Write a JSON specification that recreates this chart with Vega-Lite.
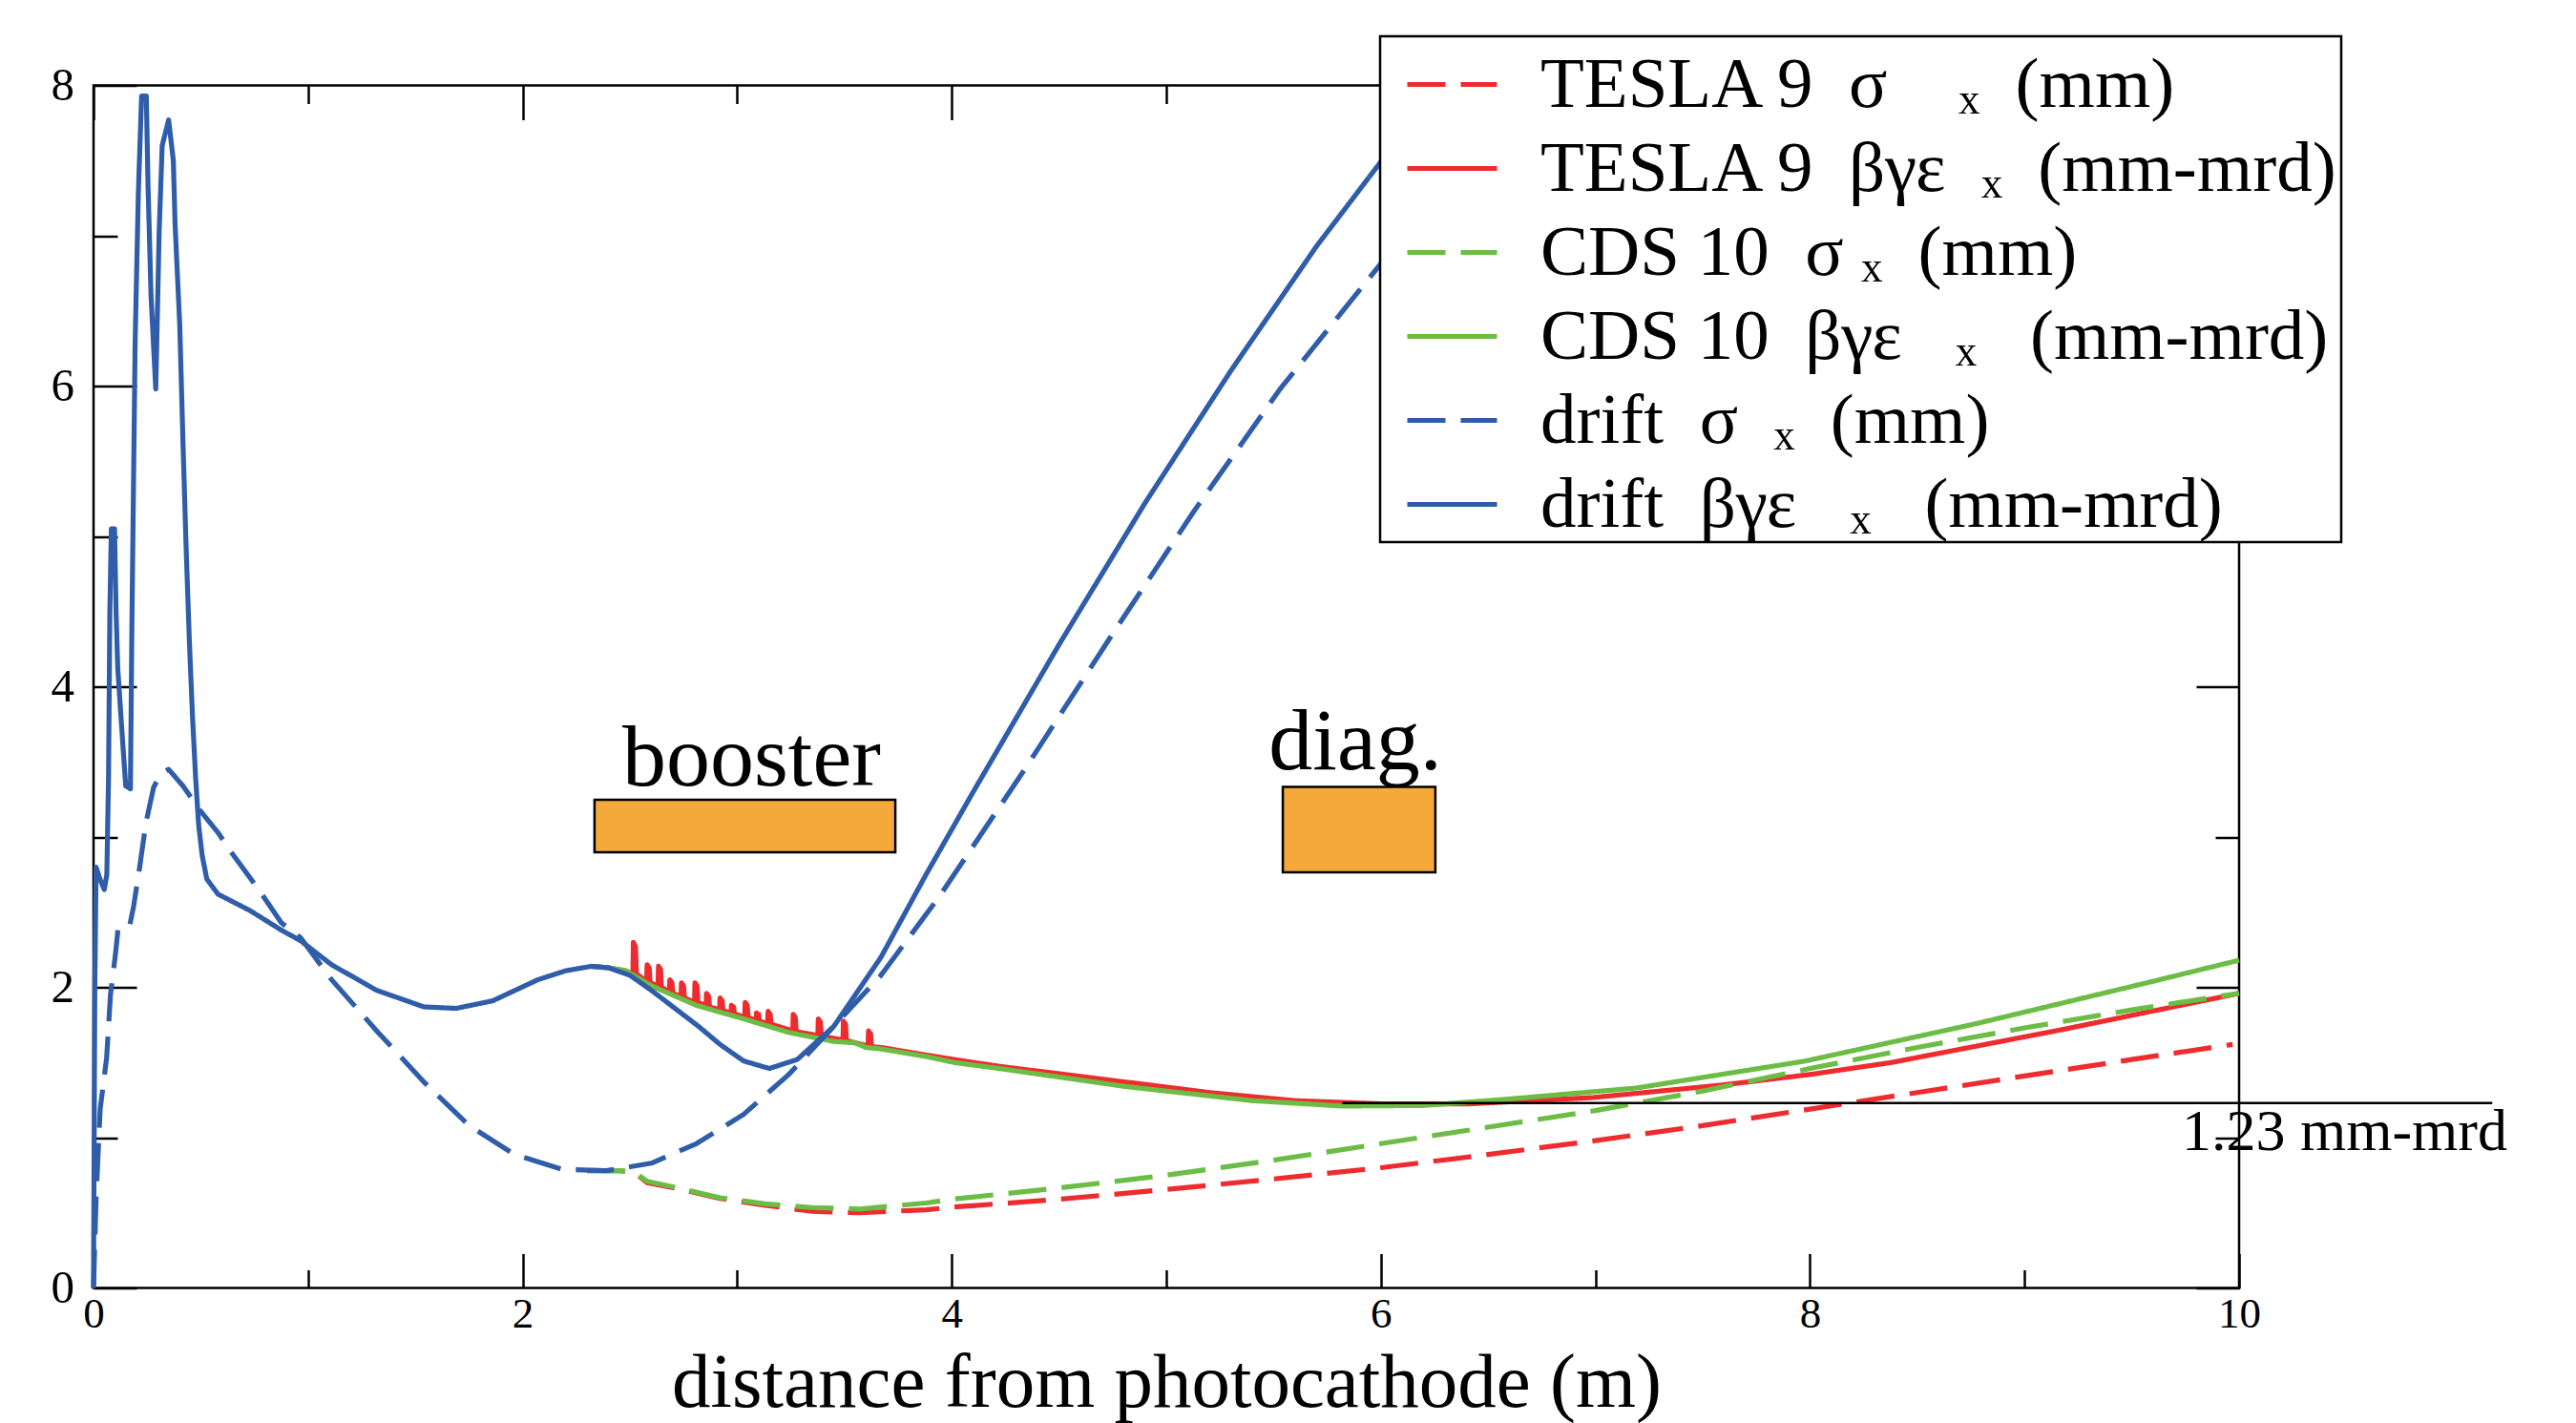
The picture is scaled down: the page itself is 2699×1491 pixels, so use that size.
{
  "$schema": "https://vega.github.io/schema/vega-lite/v6.json",
  "width": 2248,
  "height": 1260,
  "autosize": {"type": "none"},
  "padding": {"left": 98, "top": 89.5, "right": 353, "bottom": 141.5},
  "background": "white",
  "config": {
    "view": {"stroke": "black", "strokeWidth": 2.5},
    "legend": {"strokeWidth": 2.5},
    "axis": {"labelFont": "Liberation Serif", "titleFont": "Liberation Serif"},
    "text": {"font": "Liberation Serif"}
  },
  "datasets": {
    "curves": [
      {"series": "TESLA 9 σx (mm)", "x": 2.3, "y": 0.78},
      {"series": "TESLA 9 σx (mm)", "x": 2.45, "y": 0.78},
      {"series": "TESLA 9 σx (mm)", "x": 2.52, "y": 0.77},
      {"series": "TESLA 9 σx (mm)", "x": 2.58, "y": 0.7},
      {"series": "TESLA 9 σx (mm)", "x": 2.71, "y": 0.665},
      {"series": "TESLA 9 σx (mm)", "x": 2.92, "y": 0.595},
      {"series": "TESLA 9 σx (mm)", "x": 3.13, "y": 0.55},
      {"series": "TESLA 9 σx (mm)", "x": 3.35, "y": 0.51},
      {"series": "TESLA 9 σx (mm)", "x": 3.57, "y": 0.5},
      {"series": "TESLA 9 σx (mm)", "x": 3.88, "y": 0.52},
      {"series": "TESLA 9 σx (mm)", "x": 4.0, "y": 0.537},
      {"series": "TESLA 9 σx (mm)", "x": 4.5, "y": 0.59},
      {"series": "TESLA 9 σx (mm)", "x": 5.0, "y": 0.655},
      {"series": "TESLA 9 σx (mm)", "x": 5.5, "y": 0.725},
      {"series": "TESLA 9 σx (mm)", "x": 6.0, "y": 0.8},
      {"series": "TESLA 9 σx (mm)", "x": 6.4, "y": 0.87},
      {"series": "TESLA 9 σx (mm)", "x": 7.0, "y": 0.98},
      {"series": "TESLA 9 σx (mm)", "x": 7.5, "y": 1.08},
      {"series": "TESLA 9 σx (mm)", "x": 8.0, "y": 1.19},
      {"series": "TESLA 9 σx (mm)", "x": 8.5, "y": 1.3},
      {"series": "TESLA 9 σx (mm)", "x": 9.0, "y": 1.41},
      {"series": "TESLA 9 σx (mm)", "x": 9.5, "y": 1.52},
      {"series": "TESLA 9 σx (mm)", "x": 9.97, "y": 1.62},

      {"series": "TESLA 9 βγεx (mm-mrd)", "x": 2.32, "y": 2.14},
      {"series": "TESLA 9 βγεx (mm-mrd)", "x": 2.4, "y": 2.13},
      {"series": "TESLA 9 βγεx (mm-mrd)", "x": 2.48, "y": 2.11},
      {"series": "TESLA 9 βγεx (mm-mrd)", "x": 2.514, "y": 2.09},
      {"series": "TESLA 9 βγεx (mm-mrd)", "x": 2.516, "y": 2.3},
      {"series": "TESLA 9 βγεx (mm-mrd)", "x": 2.526, "y": 2.27},
      {"series": "TESLA 9 βγεx (mm-mrd)", "x": 2.53, "y": 2.09},
      {"series": "TESLA 9 βγεx (mm-mrd)", "x": 2.578, "y": 2.04},
      {"series": "TESLA 9 βγεx (mm-mrd)", "x": 2.58, "y": 2.15},
      {"series": "TESLA 9 βγεx (mm-mrd)", "x": 2.59, "y": 2.13},
      {"series": "TESLA 9 βγεx (mm-mrd)", "x": 2.594, "y": 2.03},
      {"series": "TESLA 9 βγεx (mm-mrd)", "x": 2.631, "y": 2.01},
      {"series": "TESLA 9 βγεx (mm-mrd)", "x": 2.633, "y": 2.14},
      {"series": "TESLA 9 βγεx (mm-mrd)", "x": 2.643, "y": 2.12},
      {"series": "TESLA 9 βγεx (mm-mrd)", "x": 2.647, "y": 2.0},
      {"series": "TESLA 9 βγεx (mm-mrd)", "x": 2.684, "y": 1.97},
      {"series": "TESLA 9 βγεx (mm-mrd)", "x": 2.686, "y": 2.05},
      {"series": "TESLA 9 βγεx (mm-mrd)", "x": 2.696, "y": 2.03},
      {"series": "TESLA 9 βγεx (mm-mrd)", "x": 2.7, "y": 1.96},
      {"series": "TESLA 9 βγεx (mm-mrd)", "x": 2.738, "y": 1.94},
      {"series": "TESLA 9 βγεx (mm-mrd)", "x": 2.74, "y": 2.03},
      {"series": "TESLA 9 βγεx (mm-mrd)", "x": 2.75, "y": 2.01},
      {"series": "TESLA 9 βγεx (mm-mrd)", "x": 2.754, "y": 1.93},
      {"series": "TESLA 9 βγεx (mm-mrd)", "x": 2.801, "y": 1.9},
      {"series": "TESLA 9 βγεx (mm-mrd)", "x": 2.803, "y": 2.03},
      {"series": "TESLA 9 βγεx (mm-mrd)", "x": 2.813, "y": 2.01},
      {"series": "TESLA 9 βγεx (mm-mrd)", "x": 2.817, "y": 1.9},
      {"series": "TESLA 9 βγεx (mm-mrd)", "x": 2.855, "y": 1.88},
      {"series": "TESLA 9 βγεx (mm-mrd)", "x": 2.857, "y": 1.96},
      {"series": "TESLA 9 βγεx (mm-mrd)", "x": 2.867, "y": 1.94},
      {"series": "TESLA 9 βγεx (mm-mrd)", "x": 2.871, "y": 1.87},
      {"series": "TESLA 9 βγεx (mm-mrd)", "x": 2.918, "y": 1.85},
      {"series": "TESLA 9 βγεx (mm-mrd)", "x": 2.92, "y": 1.93},
      {"series": "TESLA 9 βγεx (mm-mrd)", "x": 2.93, "y": 1.91},
      {"series": "TESLA 9 βγεx (mm-mrd)", "x": 2.934, "y": 1.845},
      {"series": "TESLA 9 βγεx (mm-mrd)", "x": 2.971, "y": 1.83},
      {"series": "TESLA 9 βγεx (mm-mrd)", "x": 2.973, "y": 1.88},
      {"series": "TESLA 9 βγεx (mm-mrd)", "x": 2.983, "y": 1.87},
      {"series": "TESLA 9 βγεx (mm-mrd)", "x": 2.987, "y": 1.825},
      {"series": "TESLA 9 βγεx (mm-mrd)", "x": 3.035, "y": 1.8},
      {"series": "TESLA 9 βγεx (mm-mrd)", "x": 3.037, "y": 1.9},
      {"series": "TESLA 9 βγεx (mm-mrd)", "x": 3.047, "y": 1.88},
      {"series": "TESLA 9 βγεx (mm-mrd)", "x": 3.051, "y": 1.8},
      {"series": "TESLA 9 βγεx (mm-mrd)", "x": 3.088, "y": 1.78},
      {"series": "TESLA 9 βγεx (mm-mrd)", "x": 3.09, "y": 1.83},
      {"series": "TESLA 9 βγεx (mm-mrd)", "x": 3.1, "y": 1.82},
      {"series": "TESLA 9 βγεx (mm-mrd)", "x": 3.104, "y": 1.775},
      {"series": "TESLA 9 βγεx (mm-mrd)", "x": 3.142, "y": 1.76},
      {"series": "TESLA 9 βγεx (mm-mrd)", "x": 3.144, "y": 1.84},
      {"series": "TESLA 9 βγεx (mm-mrd)", "x": 3.154, "y": 1.82},
      {"series": "TESLA 9 βγεx (mm-mrd)", "x": 3.158, "y": 1.755},
      {"series": "TESLA 9 βγεx (mm-mrd)", "x": 3.259, "y": 1.71},
      {"series": "TESLA 9 βγεx (mm-mrd)", "x": 3.261, "y": 1.82},
      {"series": "TESLA 9 βγεx (mm-mrd)", "x": 3.271, "y": 1.8},
      {"series": "TESLA 9 βγεx (mm-mrd)", "x": 3.275, "y": 1.705},
      {"series": "TESLA 9 βγεx (mm-mrd)", "x": 3.376, "y": 1.68},
      {"series": "TESLA 9 βγεx (mm-mrd)", "x": 3.378, "y": 1.79},
      {"series": "TESLA 9 βγεx (mm-mrd)", "x": 3.388, "y": 1.77},
      {"series": "TESLA 9 βγεx (mm-mrd)", "x": 3.392, "y": 1.675},
      {"series": "TESLA 9 βγεx (mm-mrd)", "x": 3.493, "y": 1.65},
      {"series": "TESLA 9 βγεx (mm-mrd)", "x": 3.495, "y": 1.775},
      {"series": "TESLA 9 βγεx (mm-mrd)", "x": 3.505, "y": 1.755},
      {"series": "TESLA 9 βγεx (mm-mrd)", "x": 3.509, "y": 1.645},
      {"series": "TESLA 9 βγεx (mm-mrd)", "x": 3.61, "y": 1.61},
      {"series": "TESLA 9 βγεx (mm-mrd)", "x": 3.612, "y": 1.71},
      {"series": "TESLA 9 βγεx (mm-mrd)", "x": 3.622, "y": 1.69},
      {"series": "TESLA 9 βγεx (mm-mrd)", "x": 3.626, "y": 1.605},
      {"series": "TESLA 9 βγεx (mm-mrd)", "x": 3.67, "y": 1.6},
      {"series": "TESLA 9 βγεx (mm-mrd)", "x": 3.88, "y": 1.55},
      {"series": "TESLA 9 βγεx (mm-mrd)", "x": 4.01, "y": 1.52},
      {"series": "TESLA 9 βγεx (mm-mrd)", "x": 4.22, "y": 1.475},
      {"series": "TESLA 9 βγεx (mm-mrd)", "x": 4.81, "y": 1.37},
      {"series": "TESLA 9 βγεx (mm-mrd)", "x": 5.2, "y": 1.3},
      {"series": "TESLA 9 βγεx (mm-mrd)", "x": 5.6, "y": 1.246},
      {"series": "TESLA 9 βγεx (mm-mrd)", "x": 6.0, "y": 1.225},
      {"series": "TESLA 9 βγεx (mm-mrd)", "x": 6.4, "y": 1.224},
      {"series": "TESLA 9 βγεx (mm-mrd)", "x": 6.99, "y": 1.267},
      {"series": "TESLA 9 βγεx (mm-mrd)", "x": 7.59, "y": 1.35},
      {"series": "TESLA 9 βγεx (mm-mrd)", "x": 8.0, "y": 1.42},
      {"series": "TESLA 9 βγεx (mm-mrd)", "x": 8.38, "y": 1.5},
      {"series": "TESLA 9 βγεx (mm-mrd)", "x": 9.18, "y": 1.72},
      {"series": "TESLA 9 βγεx (mm-mrd)", "x": 10.0, "y": 1.96},

      {"series": "CDS 10 σx (mm)", "x": 2.3, "y": 0.78},
      {"series": "CDS 10 σx (mm)", "x": 2.45, "y": 0.78},
      {"series": "CDS 10 σx (mm)", "x": 2.52, "y": 0.77},
      {"series": "CDS 10 σx (mm)", "x": 2.58, "y": 0.71},
      {"series": "CDS 10 σx (mm)", "x": 2.71, "y": 0.67},
      {"series": "CDS 10 σx (mm)", "x": 2.92, "y": 0.6},
      {"series": "CDS 10 σx (mm)", "x": 3.13, "y": 0.56},
      {"series": "CDS 10 σx (mm)", "x": 3.35, "y": 0.535},
      {"series": "CDS 10 σx (mm)", "x": 3.57, "y": 0.525},
      {"series": "CDS 10 σx (mm)", "x": 3.88, "y": 0.565},
      {"series": "CDS 10 σx (mm)", "x": 4.0, "y": 0.59},
      {"series": "CDS 10 σx (mm)", "x": 4.5, "y": 0.665},
      {"series": "CDS 10 σx (mm)", "x": 5.0, "y": 0.75},
      {"series": "CDS 10 σx (mm)", "x": 5.5, "y": 0.85},
      {"series": "CDS 10 σx (mm)", "x": 6.0, "y": 0.96},
      {"series": "CDS 10 σx (mm)", "x": 6.5, "y": 1.07},
      {"series": "CDS 10 σx (mm)", "x": 7.0, "y": 1.18},
      {"series": "CDS 10 σx (mm)", "x": 7.5, "y": 1.31},
      {"series": "CDS 10 σx (mm)", "x": 8.0, "y": 1.46},
      {"series": "CDS 10 σx (mm)", "x": 8.5, "y": 1.6},
      {"series": "CDS 10 σx (mm)", "x": 9.0, "y": 1.73},
      {"series": "CDS 10 σx (mm)", "x": 9.5, "y": 1.85},
      {"series": "CDS 10 σx (mm)", "x": 10.0, "y": 1.96},

      {"series": "CDS 10 βγεx (mm-mrd)", "x": 2.32, "y": 2.14},
      {"series": "CDS 10 βγεx (mm-mrd)", "x": 2.4, "y": 2.13},
      {"series": "CDS 10 βγεx (mm-mrd)", "x": 2.48, "y": 2.11},
      {"series": "CDS 10 βγεx (mm-mrd)", "x": 2.6, "y": 2.01},
      {"series": "CDS 10 βγεx (mm-mrd)", "x": 2.81, "y": 1.88},
      {"series": "CDS 10 βγεx (mm-mrd)", "x": 3.03, "y": 1.79},
      {"series": "CDS 10 βγεx (mm-mrd)", "x": 3.24, "y": 1.7},
      {"series": "CDS 10 βγεx (mm-mrd)", "x": 3.45, "y": 1.64},
      {"series": "CDS 10 βγεx (mm-mrd)", "x": 3.55, "y": 1.63},
      {"series": "CDS 10 βγεx (mm-mrd)", "x": 3.6, "y": 1.6},
      {"series": "CDS 10 βγεx (mm-mrd)", "x": 3.67, "y": 1.59},
      {"series": "CDS 10 βγεx (mm-mrd)", "x": 3.88, "y": 1.54},
      {"series": "CDS 10 βγεx (mm-mrd)", "x": 4.01, "y": 1.5},
      {"series": "CDS 10 βγεx (mm-mrd)", "x": 4.22, "y": 1.46},
      {"series": "CDS 10 βγεx (mm-mrd)", "x": 4.81, "y": 1.34},
      {"series": "CDS 10 βγεx (mm-mrd)", "x": 5.4, "y": 1.246},
      {"series": "CDS 10 βγεx (mm-mrd)", "x": 5.82, "y": 1.21},
      {"series": "CDS 10 βγεx (mm-mrd)", "x": 6.2, "y": 1.214},
      {"series": "CDS 10 βγεx (mm-mrd)", "x": 6.59, "y": 1.256},
      {"series": "CDS 10 βγεx (mm-mrd)", "x": 7.19, "y": 1.33},
      {"series": "CDS 10 βγεx (mm-mrd)", "x": 7.98, "y": 1.51},
      {"series": "CDS 10 βγεx (mm-mrd)", "x": 8.78, "y": 1.76},
      {"series": "CDS 10 βγεx (mm-mrd)", "x": 9.57, "y": 2.03},
      {"series": "CDS 10 βγεx (mm-mrd)", "x": 10.0, "y": 2.18},

      {"series": "drift σx (mm)", "x": 0, "y": 0},
      {"series": "drift σx (mm)", "x": 0.012, "y": 0.6},
      {"series": "drift σx (mm)", "x": 0.031, "y": 1.19},
      {"series": "drift σx (mm)", "x": 0.061, "y": 1.53},
      {"series": "drift σx (mm)", "x": 0.079, "y": 1.95},
      {"series": "drift σx (mm)", "x": 0.103, "y": 2.23},
      {"series": "drift σx (mm)", "x": 0.115, "y": 2.4},
      {"series": "drift σx (mm)", "x": 0.17, "y": 2.42},
      {"series": "drift σx (mm)", "x": 0.187, "y": 2.54},
      {"series": "drift σx (mm)", "x": 0.215, "y": 2.8},
      {"series": "drift σx (mm)", "x": 0.245, "y": 3.1},
      {"series": "drift σx (mm)", "x": 0.28, "y": 3.33},
      {"series": "drift σx (mm)", "x": 0.313, "y": 3.42},
      {"series": "drift σx (mm)", "x": 0.35, "y": 3.45},
      {"series": "drift σx (mm)", "x": 0.417, "y": 3.34},
      {"series": "drift σx (mm)", "x": 0.5, "y": 3.17},
      {"series": "drift σx (mm)", "x": 0.58, "y": 3.03},
      {"series": "drift σx (mm)", "x": 0.636, "y": 2.91},
      {"series": "drift σx (mm)", "x": 0.77, "y": 2.65},
      {"series": "drift σx (mm)", "x": 0.875, "y": 2.43},
      {"series": "drift σx (mm)", "x": 0.965, "y": 2.33},
      {"series": "drift σx (mm)", "x": 1.11, "y": 2.05},
      {"series": "drift σx (mm)", "x": 1.32, "y": 1.71},
      {"series": "drift σx (mm)", "x": 1.54, "y": 1.37},
      {"series": "drift σx (mm)", "x": 1.75, "y": 1.08},
      {"series": "drift σx (mm)", "x": 1.96, "y": 0.89},
      {"series": "drift σx (mm)", "x": 2.18, "y": 0.79},
      {"series": "drift σx (mm)", "x": 2.39, "y": 0.78},
      {"series": "drift σx (mm)", "x": 2.6, "y": 0.83},
      {"series": "drift σx (mm)", "x": 2.81, "y": 0.96},
      {"series": "drift σx (mm)", "x": 3.03, "y": 1.155},
      {"series": "drift σx (mm)", "x": 3.24, "y": 1.42},
      {"series": "drift σx (mm)", "x": 3.45, "y": 1.74},
      {"series": "drift σx (mm)", "x": 3.67, "y": 2.08},
      {"series": "drift σx (mm)", "x": 3.94, "y": 2.6},
      {"series": "drift σx (mm)", "x": 4.34, "y": 3.45},
      {"series": "drift σx (mm)", "x": 4.74, "y": 4.33},
      {"series": "drift σx (mm)", "x": 5.13, "y": 5.17},
      {"series": "drift σx (mm)", "x": 5.53, "y": 5.98},
      {"series": "drift σx (mm)", "x": 6.02, "y": 6.85},

      {"series": "drift βγεx (mm-mrd)", "x": 0, "y": 0},
      {"series": "drift βγεx (mm-mrd)", "x": 0.006, "y": 2.0},
      {"series": "drift βγεx (mm-mrd)", "x": 0.012, "y": 2.8},
      {"series": "drift βγεx (mm-mrd)", "x": 0.03, "y": 2.72},
      {"series": "drift βγεx (mm-mrd)", "x": 0.05, "y": 2.65},
      {"series": "drift βγεx (mm-mrd)", "x": 0.062, "y": 2.75},
      {"series": "drift βγεx (mm-mrd)", "x": 0.07, "y": 3.4},
      {"series": "drift βγεx (mm-mrd)", "x": 0.076, "y": 4.5},
      {"series": "drift βγεx (mm-mrd)", "x": 0.083, "y": 5.05},
      {"series": "drift βγεx (mm-mrd)", "x": 0.098, "y": 5.05},
      {"series": "drift βγεx (mm-mrd)", "x": 0.105, "y": 4.5},
      {"series": "drift βγεx (mm-mrd)", "x": 0.113, "y": 4.12},
      {"series": "drift βγεx (mm-mrd)", "x": 0.135, "y": 3.65},
      {"series": "drift βγεx (mm-mrd)", "x": 0.15, "y": 3.34},
      {"series": "drift βγεx (mm-mrd)", "x": 0.172, "y": 3.32},
      {"series": "drift βγεx (mm-mrd)", "x": 0.179, "y": 4.43},
      {"series": "drift βγεx (mm-mrd)", "x": 0.194, "y": 6.3},
      {"series": "drift βγεx (mm-mrd)", "x": 0.209, "y": 7.29},
      {"series": "drift βγεx (mm-mrd)", "x": 0.224, "y": 7.93},
      {"series": "drift βγεx (mm-mrd)", "x": 0.246, "y": 7.93},
      {"series": "drift βγεx (mm-mrd)", "x": 0.254, "y": 7.34},
      {"series": "drift βγεx (mm-mrd)", "x": 0.268, "y": 6.6},
      {"series": "drift βγεx (mm-mrd)", "x": 0.29, "y": 5.98},
      {"series": "drift βγεx (mm-mrd)", "x": 0.306, "y": 7.03},
      {"series": "drift βγεx (mm-mrd)", "x": 0.32, "y": 7.6},
      {"series": "drift βγεx (mm-mrd)", "x": 0.35, "y": 7.77},
      {"series": "drift βγεx (mm-mrd)", "x": 0.372, "y": 7.5},
      {"series": "drift βγεx (mm-mrd)", "x": 0.38, "y": 7.08},
      {"series": "drift βγεx (mm-mrd)", "x": 0.402, "y": 6.4},
      {"series": "drift βγεx (mm-mrd)", "x": 0.417, "y": 5.62},
      {"series": "drift βγεx (mm-mrd)", "x": 0.431, "y": 4.95},
      {"series": "drift βγεx (mm-mrd)", "x": 0.446, "y": 4.33},
      {"series": "drift βγεx (mm-mrd)", "x": 0.461, "y": 3.81},
      {"series": "drift βγεx (mm-mrd)", "x": 0.476, "y": 3.39},
      {"series": "drift βγεx (mm-mrd)", "x": 0.49, "y": 3.08},
      {"series": "drift βγεx (mm-mrd)", "x": 0.506, "y": 2.88},
      {"series": "drift βγεx (mm-mrd)", "x": 0.528, "y": 2.72},
      {"series": "drift βγεx (mm-mrd)", "x": 0.58, "y": 2.62},
      {"series": "drift βγεx (mm-mrd)", "x": 0.73, "y": 2.51},
      {"series": "drift βγεx (mm-mrd)", "x": 0.876, "y": 2.38},
      {"series": "drift βγεx (mm-mrd)", "x": 0.965, "y": 2.31},
      {"series": "drift βγεx (mm-mrd)", "x": 1.11, "y": 2.15},
      {"series": "drift βγεx (mm-mrd)", "x": 1.32, "y": 1.98},
      {"series": "drift βγεx (mm-mrd)", "x": 1.54, "y": 1.87},
      {"series": "drift βγεx (mm-mrd)", "x": 1.69, "y": 1.86},
      {"series": "drift βγεx (mm-mrd)", "x": 1.86, "y": 1.91},
      {"series": "drift βγεx (mm-mrd)", "x": 2.07, "y": 2.05},
      {"series": "drift βγεx (mm-mrd)", "x": 2.2, "y": 2.11},
      {"series": "drift βγεx (mm-mrd)", "x": 2.32, "y": 2.14},
      {"series": "drift βγεx (mm-mrd)", "x": 2.4, "y": 2.13},
      {"series": "drift βγεx (mm-mrd)", "x": 2.5, "y": 2.08},
      {"series": "drift βγεx (mm-mrd)", "x": 2.6, "y": 1.98},
      {"series": "drift βγεx (mm-mrd)", "x": 2.71, "y": 1.86},
      {"series": "drift βγεx (mm-mrd)", "x": 2.82, "y": 1.74},
      {"series": "drift βγεx (mm-mrd)", "x": 2.92, "y": 1.62},
      {"series": "drift βγεx (mm-mrd)", "x": 3.03, "y": 1.51},
      {"series": "drift βγεx (mm-mrd)", "x": 3.15, "y": 1.46},
      {"series": "drift βγεx (mm-mrd)", "x": 3.28, "y": 1.52},
      {"series": "drift βγεx (mm-mrd)", "x": 3.45, "y": 1.74},
      {"series": "drift βγεx (mm-mrd)", "x": 3.67, "y": 2.2},
      {"series": "drift βγεx (mm-mrd)", "x": 3.88, "y": 2.75},
      {"series": "drift βγεx (mm-mrd)", "x": 4.1, "y": 3.3},
      {"series": "drift βγεx (mm-mrd)", "x": 4.5, "y": 4.28},
      {"series": "drift βγεx (mm-mrd)", "x": 4.9, "y": 5.22},
      {"series": "drift βγεx (mm-mrd)", "x": 5.3, "y": 6.1},
      {"series": "drift βγεx (mm-mrd)", "x": 5.7, "y": 6.93},
      {"series": "drift βγεx (mm-mrd)", "x": 6.02, "y": 7.53}
    ]
  },
  "resolve": {
    "scale": {"x": "shared", "y": "shared"},
    "axis": {"x": "independent", "y": "independent"}
  },
  "layer": [
    {
      "data": {"values": [{"component": "booster"}]},
      "mark": {"type": "rect", "fill": "#F5A939", "stroke": "black", "strokeWidth": 2.5},
      "encoding": {
        "x": {"datum": 2.335, "type": "quantitative", "scale": {"domain": [0, 10], "nice": false, "zero": false}, "axis": null},
        "x2": {"datum": 3.737},
        "y": {"datum": 3.248, "type": "quantitative", "scale": {"domain": [0, 8], "nice": false, "zero": false}, "axis": null},
        "y2": {"datum": 2.898}
      }
    },
    {
      "data": {"values": [{"component": "diag."}]},
      "mark": {"type": "rect", "fill": "#F5A939", "stroke": "black", "strokeWidth": 2.5},
      "encoding": {
        "x": {"datum": 5.543, "type": "quantitative", "scale": {"domain": [0, 10], "nice": false, "zero": false}, "axis": null},
        "x2": {"datum": 6.254},
        "y": {"datum": 3.333, "type": "quantitative", "scale": {"domain": [0, 8], "nice": false, "zero": false}, "axis": null},
        "y2": {"datum": 2.765}
      }
    },
    {
      "data": {"values": [{"component": "booster"}]},
      "mark": {"type": "text", "font": "Liberation Serif", "fontSize": 92, "align": "center", "baseline": "alphabetic", "color": "black"},
      "encoding": {
        "x": {"datum": 3.067, "type": "quantitative", "scale": {"domain": [0, 10], "nice": false, "zero": false}, "axis": null},
        "y": {"datum": 3.343, "type": "quantitative", "scale": {"domain": [0, 8], "nice": false, "zero": false}, "axis": null},
        "text": {"field": "component"}
      }
    },
    {
      "data": {"values": [{"component": "diag."}]},
      "mark": {"type": "text", "font": "Liberation Serif", "fontSize": 92, "align": "center", "baseline": "alphabetic", "color": "black"},
      "encoding": {
        "x": {"datum": 5.881, "type": "quantitative", "scale": {"domain": [0, 10], "nice": false, "zero": false}, "axis": null},
        "y": {"datum": 3.453, "type": "quantitative", "scale": {"domain": [0, 8], "nice": false, "zero": false}, "axis": null},
        "text": {"field": "component"}
      }
    },
    {
      "data": {"name": "curves"},
      "mark": {"type": "line", "strokeWidth": 5.2, "strokeJoin": "round"},
      "encoding": {
        "x": {
          "field": "x", "type": "quantitative",
          "scale": {"domain": [0, 10], "nice": false, "zero": false},
          "axis": {
            "orient": "bottom",
            "values": [0, 1, 2, 3, 4, 5, 6, 7, 8, 9, 10],
            "labelExpr": "datum.value % 2 === 0 ? datum.label : ''",
            "tickSize": {"condition": {"test": "datum.value % 2 === 0", "value": -36}, "value": -19},
            "tickColor": "black", "tickWidth": 2.5,
            "domain": false, "grid": false,
            "labelFont": "Liberation Serif", "labelFontSize": 45, "labelColor": "black",
            "labelPadding": 41, "labelFlush": false, "labelOverlap": false,
            "title": "distance from photocathode (m)",
            "titleFont": "Liberation Serif", "titleFontSize": 81, "titleFontWeight": "normal",
            "titleColor": "black", "titleBaseline": "alphabetic", "titleY": 123.5
          }
        },
        "y": {
          "field": "y", "type": "quantitative",
          "scale": {"domain": [0, 8], "nice": false, "zero": false},
          "axis": {
            "orient": "left",
            "values": [0, 1, 2, 3, 4, 5, 6, 7, 8],
            "labelExpr": "datum.value % 2 === 0 ? datum.label : ''",
            "tickSize": {"condition": {"test": "datum.value % 2 === 0", "value": -45}, "value": -25},
            "tickColor": "black", "tickWidth": 2.5,
            "domain": false, "grid": false,
            "labelFont": "Liberation Serif", "labelFontSize": 49, "labelColor": "black",
            "labelPadding": 65.5, "labelFlush": false, "labelOverlap": false,
            "title": null
          }
        },
        "color": {
          "field": "series", "type": "nominal",
          "scale": {
            "domain": ["TESLA 9 σx (mm)", "TESLA 9 βγεx (mm-mrd)", "CDS 10 σx (mm)", "CDS 10 βγεx (mm-mrd)", "drift σx (mm)", "drift βγεx (mm-mrd)"],
            "range": ["#EE2C2F", "#EE2C2F", "#6CBD45", "#6CBD45", "#2F5DAA", "#2F5DAA"]
          },
          "legend": {
            "title": null, "orient": "none", "legendX": 1348, "legendY": -51.5,
            "padding": 1, "symbolOffset": 25, "strokeColor": "black", "fillColor": "white", "cornerRadius": 0,
            "symbolType": "stroke", "symbolSize": 8836, "symbolStrokeWidth": 5,
            "labelFont": "Liberation Serif", "labelFontSize": 75, "labelColor": "black",
            "labelLimit": 2000, "labelOffset": 43, "rowPadding": 0, "labelBaseline": "middle",
            "labelExpr": "datum.label == 'TESLA 9 σx (mm)' ? 'TESLA 9\u00a0\u00a0σ\u00a0\u00a0\u00a0\u00a0ₓ\u00a0\u00a0(mm)' : datum.label == 'TESLA 9 βγεx (mm-mrd)' ? 'TESLA 9\u00a0\u00a0βγε\u00a0\u00a0ₓ\u00a0\u00a0(mm-mrd)\u00a0' : datum.label == 'CDS 10 σx (mm)' ? 'CDS 10\u00a0\u00a0σ\u00a0ₓ\u00a0\u00a0(mm)' : datum.label == 'CDS 10 βγεx (mm-mrd)' ? 'CDS 10\u00a0\u00a0βγε\u00a0\u00a0\u00a0ₓ\u00a0\u00a0\u00a0(mm-mrd)' : datum.label == 'drift σx (mm)' ? 'drift\u00a0\u00a0σ\u00a0\u00a0ₓ\u00a0\u00a0(mm)' : 'drift\u00a0\u00a0βγε\u00a0\u00a0\u00a0ₓ\u00a0\u00a0\u00a0(mm-mrd)'"
          }
        },
        "strokeDash": {
          "field": "series", "type": "nominal",
          "scale": {
            "domain": ["TESLA 9 σx (mm)", "TESLA 9 βγεx (mm-mrd)", "CDS 10 σx (mm)", "CDS 10 βγεx (mm-mrd)", "drift σx (mm)", "drift βγεx (mm-mrd)"],
            "range": [[40, 16], [1, 0], [40, 16], [1, 0], [40, 16], [1, 0]]
          },
          "legend": {
            "title": null, "orient": "none", "legendX": 1348, "legendY": -51.5,
            "padding": 1, "symbolOffset": 25, "strokeColor": "black", "fillColor": "white", "cornerRadius": 0,
            "symbolType": "stroke", "symbolSize": 8836, "symbolStrokeWidth": 5,
            "labelFont": "Liberation Serif", "labelFontSize": 75, "labelColor": "black",
            "labelLimit": 2000, "labelOffset": 43, "rowPadding": 0, "labelBaseline": "middle",
            "labelExpr": "datum.label == 'TESLA 9 σx (mm)' ? 'TESLA 9\u00a0\u00a0σ\u00a0\u00a0\u00a0\u00a0ₓ\u00a0\u00a0(mm)' : datum.label == 'TESLA 9 βγεx (mm-mrd)' ? 'TESLA 9\u00a0\u00a0βγε\u00a0\u00a0ₓ\u00a0\u00a0(mm-mrd)\u00a0' : datum.label == 'CDS 10 σx (mm)' ? 'CDS 10\u00a0\u00a0σ\u00a0ₓ\u00a0\u00a0(mm)' : datum.label == 'CDS 10 βγεx (mm-mrd)' ? 'CDS 10\u00a0\u00a0βγε\u00a0\u00a0\u00a0ₓ\u00a0\u00a0\u00a0(mm-mrd)' : datum.label == 'drift σx (mm)' ? 'drift\u00a0\u00a0σ\u00a0\u00a0ₓ\u00a0\u00a0(mm)' : 'drift\u00a0\u00a0βγε\u00a0\u00a0\u00a0ₓ\u00a0\u00a0\u00a0(mm-mrd)'"
          }
        }
      }
    },
    {
      "data": {"values": [{"reference": "1.23 mm-mrd"}]},
      "mark": {"type": "rule", "color": "black", "strokeWidth": 2.5},
      "encoding": {
        "x": {
          "datum": 5.82, "type": "quantitative",
          "scale": {"domain": [0, 10], "nice": false, "zero": false},
          "axis": {
            "orient": "top",
            "values": [0, 1, 2, 3, 4, 5, 6, 7, 8, 9, 10],
            "labels": false,
            "tickSize": {"condition": {"test": "datum.value % 2 === 0", "value": -36}, "value": -19},
            "tickColor": "black", "tickWidth": 2.5,
            "domain": false, "grid": false, "title": null
          }
        },
        "x2": {"datum": 11.18},
        "y": {
          "datum": 1.23, "type": "quantitative",
          "scale": {"domain": [0, 8], "nice": false, "zero": false},
          "axis": {
            "orient": "right",
            "values": [0, 1, 2, 3, 4, 5, 6, 7, 8],
            "labels": false,
            "tickSize": {"condition": {"test": "datum.value % 2 === 0", "value": -45}, "value": -25},
            "tickColor": "black", "tickWidth": 2.5,
            "domain": false, "grid": false, "title": null
          }
        }
      }
    },
    {
      "data": {"values": [{"reference": "1.23 mm-mrd"}]},
      "mark": {"type": "text", "font": "Liberation Serif", "fontSize": 62, "align": "left", "baseline": "alphabetic", "color": "black"},
      "encoding": {
        "x": {"datum": 9.733, "type": "quantitative", "scale": {"domain": [0, 10], "nice": false, "zero": false}, "axis": null},
        "y": {"datum": 0.917, "type": "quantitative", "scale": {"domain": [0, 8], "nice": false, "zero": false}, "axis": null},
        "text": {"field": "reference"}
      }
    }
  ]
}
